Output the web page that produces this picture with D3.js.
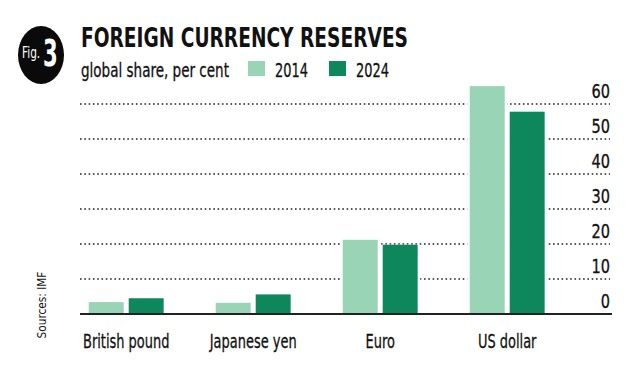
<!DOCTYPE html>
<html><head><meta charset="utf-8">
<script src="https://cdn.jsdelivr.net/npm/d3@7"></script>
<style>
html,body{margin:0;padding:0;background:#fff;}
text{font-family:"DejaVu Sans Condensed","Liberation Sans Narrow",sans-serif;}
.hv{stroke:#111;stroke-width:0.3;}
</style></head>
<body><svg id="c" width="633" height="380"></svg>
<script>
const categories = ["British pound", "Japanese yen", "Euro", "US dollar"];
const years = ["2014", "2024"];
const values2014 = [3.4, 3.2, 21.2, 65.1];
const values2024 = [4.5, 5.6, 19.8, 57.8];
const tickValues = [0, 10, 20, 30, 40, 50, 60];
const colors = ["#9ad4b6", "#0f875c"];

const svg = d3.select("#c");
const y = d3.scaleLinear().domain([0, 60]).range([314, 104]);
const x = d3.scaleBand().domain(categories).range([62.7, 570.7]).paddingInner(0.41).paddingOuter(0.205);
const xs = d3.scaleBand().domain(years).range([0, x.bandwidth()]).paddingInner(0.125);
const color = d3.scaleOrdinal().domain(years).range(colors);

function squeeze(sel, factor) {
  sel.each(function() {
    const w = this.getComputedTextLength();
    d3.select(this).attr("textLength", w * factor).attr("lengthAdjust", "spacingAndGlyphs");
  });
}

// gridlines
svg.append("g").selectAll("line").data(tickValues.filter(d => d > 0)).join("line")
  .attr("x1", 80).attr("x2", 610)
  .attr("y1", d => y(d)).attr("y2", d => y(d))
  .attr("stroke", "#222").attr("stroke-width", 1.6)
  .attr("stroke-dasharray", "1.6,2.7");

// tick labels
svg.append("g").selectAll("text").data(tickValues).join("text")
  .attr("class", "hv")
  .attr("x", 610).attr("y", d => y(d) - 6)
  .attr("text-anchor", "end").attr("font-size", 19).attr("fill", "#111")
  .text(d => d).call(squeeze, 0.85);

const rows = [];
categories.forEach((c, i) => {
  rows.push({cat: c, year: "2014", v: values2014[i]});
  rows.push({cat: c, year: "2024", v: values2024[i]});
});

// white knockouts behind bars
svg.append("g").selectAll("rect").data(rows).join("rect")
  .attr("x", d => x(d.cat) + xs(d.year) - 2.5)
  .attr("width", xs.bandwidth() + 5)
  .attr("y", d => y(d.v))
  .attr("height", d => y(0) - y(d.v))
  .attr("fill", "#fff");

svg.append("g").selectAll("rect").data(rows).join("rect")
  .attr("x", d => x(d.cat) + xs(d.year))
  .attr("width", xs.bandwidth())
  .attr("y", d => y(d.v))
  .attr("height", d => y(0) - y(d.v))
  .attr("fill", d => color(d.year));

// baseline
svg.append("line").attr("x1", 80).attr("x2", 612).attr("y1", 314).attr("y2", 314)
  .attr("stroke", "#222").attr("stroke-width", 2);

// category labels
svg.append("g").selectAll("text").data(categories).join("text")
  .attr("class", "hv")
  .attr("x", d => x(d) + x.bandwidth() / 2).attr("y", 348)
  .attr("text-anchor", "middle").attr("font-size", 20).attr("fill", "#111")
  .text(d => d).call(squeeze, 0.72);

// Fig badge
svg.append("ellipse").attr("cx", 41).attr("cy", 55).attr("rx", 23).attr("ry", 29).attr("fill", "#0a0a0a");
svg.append("text").attr("x", 22).attr("y", 58).attr("font-size", 15).attr("fill", "#fff").text("Fig.").call(squeeze, 0.78);
svg.append("text").attr("x", 43).attr("y", 66).attr("font-size", 38).attr("font-weight", "bold").attr("fill", "#fff").text("3").call(squeeze, 0.62);

// title and subtitle
svg.append("text").attr("x", 81).attr("y", 47).attr("font-size", 27).attr("font-weight", "bold")
  .attr("fill", "#111").attr("textLength", 327).attr("lengthAdjust", "spacingAndGlyphs")
  .text("FOREIGN CURRENCY RESERVES");
svg.append("text").attr("class", "hv").attr("x", 81).attr("y", 77).attr("font-size", 20).attr("fill", "#111")
  .attr("textLength", 148).attr("lengthAdjust", "spacingAndGlyphs")
  .text("global share, per cent");

// legend
const legendX = [248, 329];
years.forEach((yr, i) => {
  svg.append("rect").attr("x", legendX[i]).attr("y", 61).attr("width", 17).attr("height", 15).attr("fill", colors[i]);
  svg.append("text").attr("class", "hv").attr("x", legendX[i] + 27).attr("y", 77).attr("font-size", 20).attr("fill", "#111")
    .attr("textLength", 33).attr("lengthAdjust", "spacingAndGlyphs").text(yr);
});

// source
svg.append("text").attr("transform", "translate(46,305) rotate(-90)")
  .attr("text-anchor", "middle").attr("font-size", 13).attr("fill", "#111")
  .text("Sources: IMF").call(squeeze, 0.9);
</script></body></html>
